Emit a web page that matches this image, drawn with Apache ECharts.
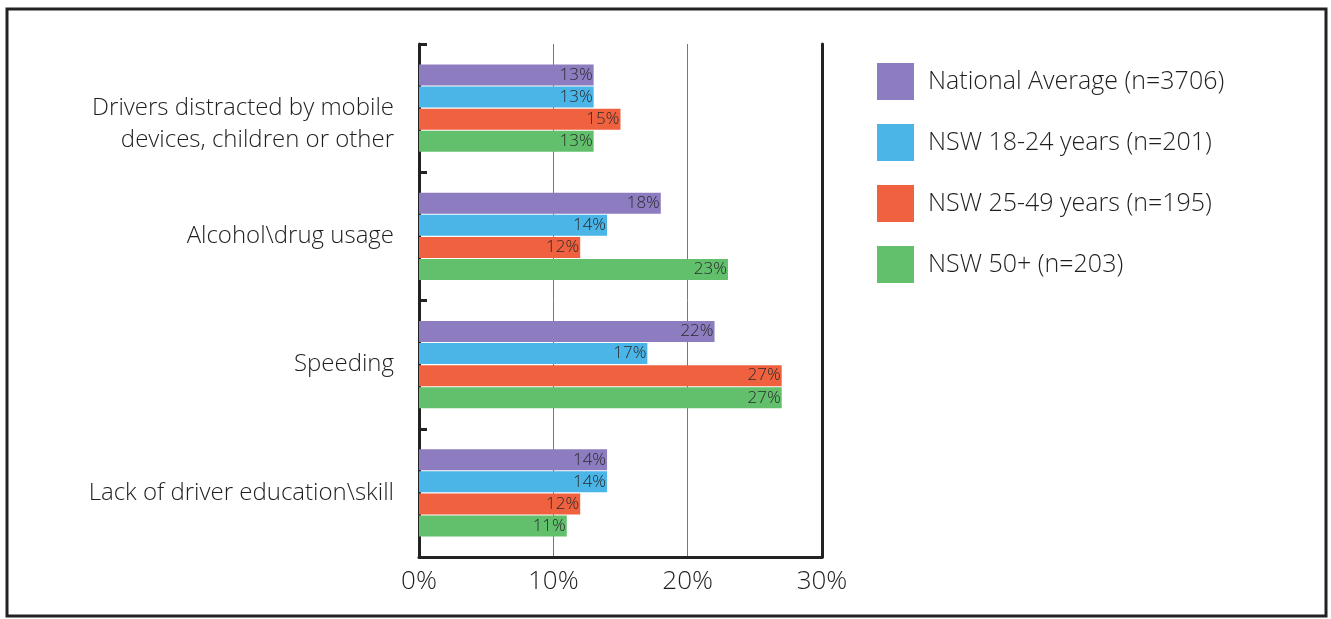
<!DOCTYPE html>
<html>
<head>
<meta charset="utf-8">
<script src="https://cdn.jsdelivr.net/npm/echarts@6/dist/echarts.min.js"></script>
<style>
  html, body { margin: 0; padding: 0; background: #fff; }
  #chart { width: 1331px; height: 619px; }
</style>
</head>
<body>
<div id="chart"></div>
<script>
const categories = [
  'Drivers distracted by mobile\ndevices, children or other',
  'Alcohol\\drug usage',
  'Speeding',
  'Lack of driver education\\skill'
];
const seriesNames = [
  'National Average (n=3706)',
  'NSW 18-24 years (n=201)',
  'NSW 25-49 years (n=195)',
  'NSW 50+ (n=203)'
];
const nationalAvg = [13, 18, 22, 14];
const nsw18to24 = [13, 14, 17, 14];
const nsw25to49 = [15, 12, 27, 12];
const nsw50plus = [13, 23, 27, 11];
const xTicks = [0, 10, 20, 30];

const colors = ['#8d7cc0', '#4ab5e6', '#f0623f', '#62bf6c'];
const fontFamily = '"Open Sans", Lato, sans-serif';
const textColor = '#1e1e1e';

const chart = echarts.init(document.getElementById('chart'));

function makeSeries(name, data, idx) {
  return {
    name: name,
    type: 'bar',
    data: data,
    barWidth: 21,
    barGap: '5%',
    barCategoryGap: '32%',
    itemStyle: { color: colors[idx] },
    label: {
      show: true,
      position: 'insideRight',
      distance: 1,
      formatter: '{c}%',
      color: '#2a2a2a',
      fontSize: 17,
      fontWeight: 300,
      fontFamily: fontFamily
    },
    animation: false
  }
}

chart.setOption({
  color: colors,
  graphic: [{
    type: 'rect',
    shape: { x: 7, y: 9, width: 1319, height: 607 },
    style: { fill: 'none', stroke: '#222', lineWidth: 3 },
    silent: true
  }],
  legend: {
    orient: 'vertical',
    left: 877,
    top: 63,
    padding: 0,
    itemWidth: 37,
    itemHeight: 37,
    itemGap: 24,
    icon: 'rect',
    textStyle: { fontSize: 25, fontWeight: 300, color: textColor, fontFamily: fontFamily, padding: [2, 0, 0, 9] },
    data: seriesNames
  },
  grid: {
    left: 419,
    right: 509,
    top: 44,
    bottom: 62
  },
  xAxis: {
    type: 'value',
    min: xTicks[0],
    max: xTicks[xTicks.length - 1],
    interval: 10,
    axisLine: { show: true, lineStyle: { color: '#222', width: 3 } },
    axisTick: { show: false },
    axisLabel: {
      formatter: '{value}%',
      fontSize: 26,
      fontWeight: 300,
      color: textColor,
      fontFamily: fontFamily,
      margin: 12
    },
    splitLine: {
      show: true,
      showMinLine: false,
      showMaxLine: false,
      lineStyle: { color: ['#777', '#777', '#222', '#222'], width: 1 }
    }
  },
  yAxis: [{
    type: 'category',
    inverse: true,
    data: categories,
    axisLine: { show: true, lineStyle: { color: '#222', width: 3 } },
    axisTick: { show: true, inside: true, length: 8, lineStyle: { color: '#222', width: 3 } },
    axisLabel: {
      fontSize: 24,
      fontWeight: 300,
      color: textColor,
      fontFamily: fontFamily,
      lineHeight: 32,
      margin: 25,
      align: 'right',
      // the two-line label sits a little below the band centre in the original
      formatter: function (v) { return v.indexOf('\n') >= 0 ? '\n' + v : v; }
    }
  }, {
    type: 'category',
    position: 'right',
    inverse: true,
    data: categories,
    axisLine: { show: true, lineStyle: { color: '#222', width: 3 } },
    axisTick: { show: false },
    axisLabel: { show: false }
  }],
  series: [
    makeSeries(seriesNames[0], nationalAvg, 0),
    makeSeries(seriesNames[1], nsw18to24, 1),
    makeSeries(seriesNames[2], nsw25to49, 2),
    makeSeries(seriesNames[3], nsw50plus, 3)
  ]
});
</script>
</body>
</html>
